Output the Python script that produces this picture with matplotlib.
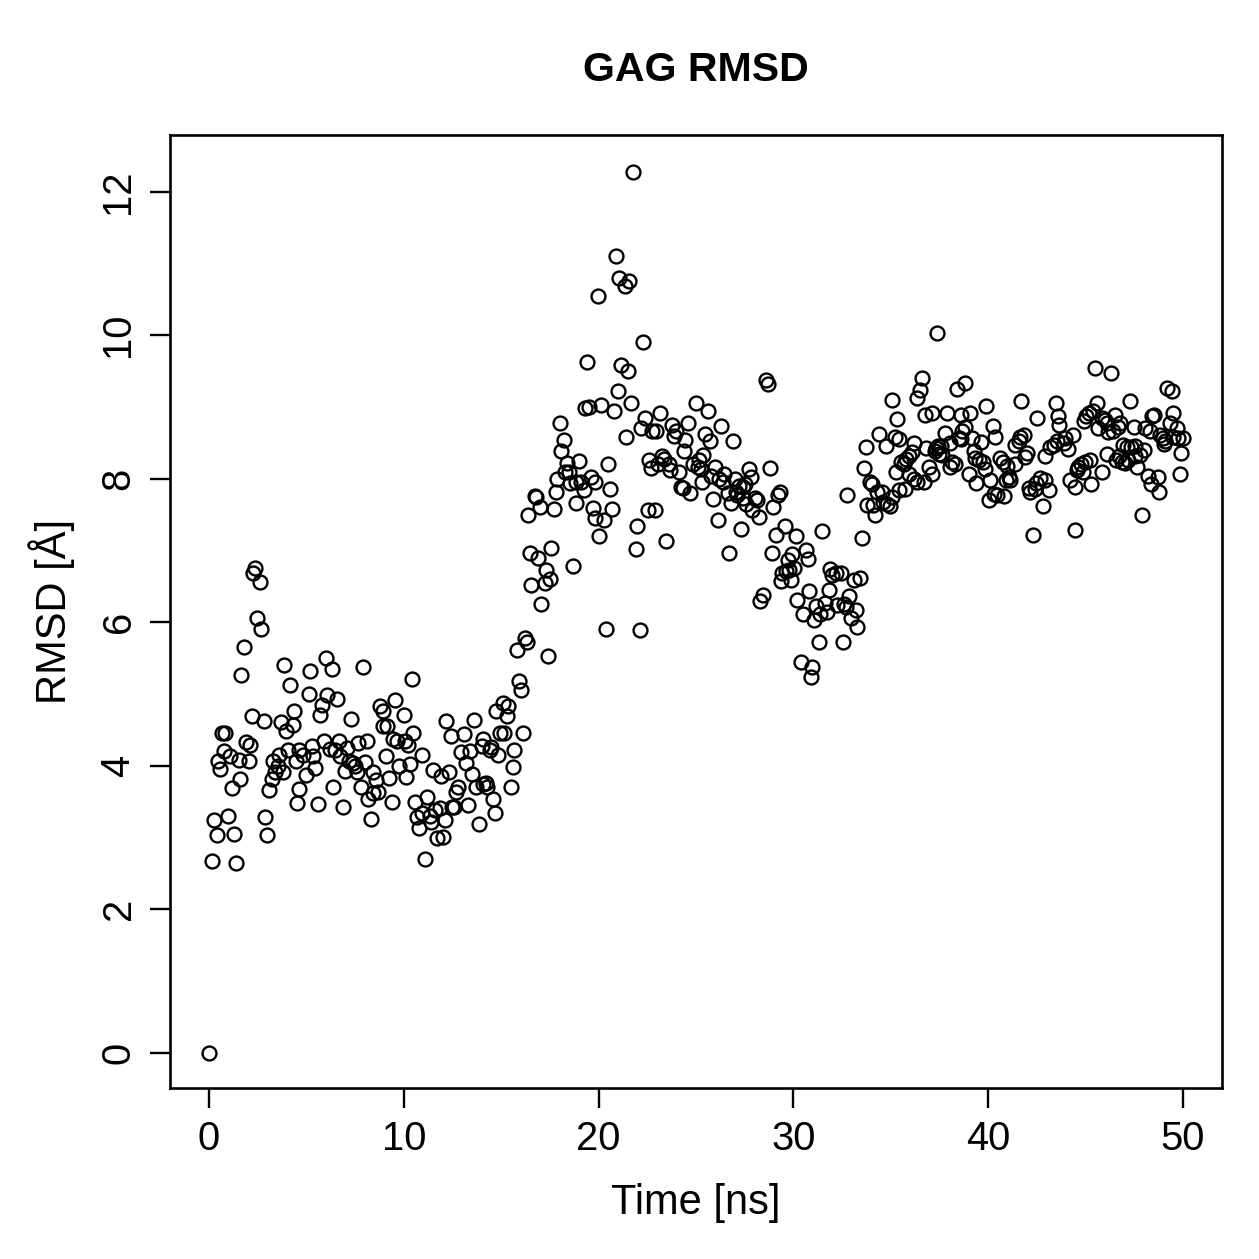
import matplotlib
matplotlib.use("Agg")
import matplotlib.pyplot as plt

plt.rcParams['font.family'] = ['Liberation Sans', 'DejaVu Sans']

# time [ns] and RMSD [A], in time order
time_ns = [
    0.00, 0.15, 0.24, 0.41, 0.45, 0.56, 0.67, 0.77, 0.82, 0.96,
    1.08, 1.18, 1.27, 1.40, 1.52, 1.59, 1.64, 1.78, 1.90, 2.03,
    2.10, 2.20, 2.25, 2.36, 2.46, 2.60, 2.66, 2.80, 2.87, 2.97,
    3.07, 3.23, 3.28, 3.38, 3.52, 3.57, 3.69, 3.79, 3.84, 3.94,
    4.08, 4.15, 4.29, 4.35, 4.46, 4.51, 4.60, 4.63, 4.85,
    4.98, 5.11, 5.19, 5.28, 5.36, 5.45, 5.62, 5.70, 5.79, 5.88,
    6.01, 6.08, 6.21, 6.30, 6.39, 6.47, 6.59, 6.70, 6.73, 6.90,
    6.98, 7.11, 7.21, 7.29, 7.41, 7.49, 7.62, 7.67, 7.79, 7.89,
    8.01, 8.09, 8.18, 8.30, 8.40, 8.44, 8.57, 8.69, 8.78, 8.91,
    8.95, 9.08, 9.15, 9.26, 9.38, 9.46, 9.54, 9.63, 9.75,
    10.01, 10.05, 10.11, 10.23, 10.31, 10.40, 10.49, 10.57, 10.69, 10.79,
    10.91, 10.96, 11.08, 11.20, 11.34, 11.42, 11.48, 11.59, 11.68, 11.85,
    11.89, 12.02, 12.11, 12.19, 12.33, 12.40, 12.45, 12.57, 12.67, 12.79,
    12.96, 13.08, 13.18, 13.30, 13.42, 13.52, 13.59, 13.73, 13.87, 13.99,
    14.05, 14.07, 14.21, 14.28, 14.41, 14.50, 14.58, 14.67, 14.75, 14.84,
    14.92,
    15.08, 15.16, 15.28, 15.33, 15.51, 15.59, 15.68, 15.81, 15.90, 16.01,
    16.10,
    16.20, 16.33, 16.38, 16.50, 16.55, 16.72, 16.80, 16.89, 16.97, 17.06,
    17.23, 17.28, 17.40, 17.49, 17.57, 17.69, 17.79, 17.86, 18.00, 18.08,
    18.20, 18.25, 18.38, 18.48, 18.55, 18.68, 18.82, 18.85, 18.99, 19.11,
    19.23, 19.28, 19.40, 19.50, 19.62, 19.71, 19.79, 19.84, 19.98, 20.04,
    20.13,
    20.30, 20.39, 20.48, 20.59, 20.70, 20.81, 20.87, 20.99, 21.07, 21.16,
    21.33, 21.41, 21.50, 21.58, 21.67, 21.79, 21.93, 21.96, 22.10, 22.18,
    22.27, 22.40, 22.52, 22.58, 22.69, 22.75, 22.92, 22.95, 23.04, 23.17,
    23.26, 23.37, 23.46, 23.60, 23.67, 23.77, 23.89, 23.98, 24.11, 24.23,
    24.32, 24.40, 24.45, 24.57, 24.69, 24.83, 24.98,
    25.08, 25.16, 25.26, 25.31, 25.36, 25.48, 25.60, 25.72, 25.77, 25.89,
    25.99, 26.11, 26.16, 26.28, 26.37, 26.45, 26.62, 26.71, 26.79, 26.88,
    27.01, 27.05, 27.13, 27.22, 27.31, 27.39, 27.41, 27.52, 27.56, 27.70,
    27.82, 27.87, 28.04, 28.11, 28.21, 28.28, 28.42, 28.59, 28.72, 28.79,
    28.89, 28.96, 29.10, 29.19, 29.30, 29.35, 29.44, 29.57, 29.60, 29.70,
    29.78, 29.87, 29.95, 30.05, 30.15,
    30.21, 30.38, 30.50, 30.64, 30.73, 30.80, 30.89, 30.98, 31.06, 31.15,
    31.29, 31.35, 31.49, 31.62, 31.70, 31.83, 31.86, 32.00, 32.17, 32.26,
    32.43, 32.52, 32.60, 32.68, 32.77, 32.85, 32.94, 33.11, 33.20, 33.28,
    33.40, 33.50, 33.62, 33.71, 33.80, 33.91, 34.02, 34.08, 34.19, 34.31,
    34.39, 34.53, 34.59, 34.77, 34.82, 34.94,
    35.04, 35.08, 35.21, 35.25, 35.33, 35.42, 35.42, 35.50, 35.67, 35.76,
    35.93, 36.07, 35.72, 35.93, 36.18, 36.36, 36.18, 36.36, 36.48, 36.58,
    36.70, 36.78, 36.82, 36.95, 37.09, 37.13, 37.26, 37.30, 37.38, 37.43,
    37.46, 37.60, 37.64, 37.77, 37.89, 38.06, 38.06, 38.15, 38.28, 38.41,
    38.49, 38.58, 38.58, 38.66, 38.80, 38.83, 39.00, 39.09, 39.18, 39.26,
    39.31, 39.38, 39.51, 39.65, 39.72, 39.82, 39.89, 40.03, 40.11, 40.23,
    40.28, 40.33, 40.46,
    40.63, 40.74, 40.79, 40.90, 40.97, 41.05, 41.14, 41.36, 41.39, 41.56,
    41.65, 41.70, 41.82, 41.91, 41.99, 42.07, 42.16, 42.28, 42.38, 42.45,
    42.50, 42.67, 42.79, 42.89, 42.93, 43.10, 43.19, 43.36, 43.48, 43.53,
    43.58, 43.65, 43.87, 43.95, 44.09, 44.21, 44.33, 44.43, 44.47, 44.55,
    44.61, 44.77, 44.84, 44.94, 44.98, 45.02, 45.15, 45.24, 45.29, 45.40,
    45.46, 45.58, 45.62,
    45.83, 45.83, 46.00, 46.09, 46.09, 46.17, 46.31, 46.43, 46.52, 46.55,
    46.65, 46.69, 46.77, 46.86, 46.94, 47.03, 47.12, 47.20, 47.28, 47.34,
    47.46, 47.51, 47.54, 47.63, 47.80, 47.88, 48.02, 48.05, 48.22, 48.31,
    48.35, 48.43, 48.53, 48.70, 48.78, 48.82, 48.99, 49.03, 49.08, 49.16,
    49.33, 49.42, 49.46, 49.50, 49.68, 49.73, 49.85, 49.90, 50.02,
]

rmsd_A = [
    0.00, 2.68, 3.25, 3.04, 4.06, 3.96, 4.46, 4.20, 4.46, 3.30,
    4.13, 3.69, 3.05, 2.65, 4.08, 3.82, 5.26, 5.66, 4.33, 4.06,
    4.29, 4.70, 6.68, 6.76, 6.06, 6.56, 5.90, 4.62, 3.29, 3.04,
    3.66, 3.82, 4.07, 3.92, 4.00, 4.15, 4.61, 3.91, 5.40, 4.49,
    4.22, 5.13, 4.57, 4.77, 4.06, 3.48, 4.22, 3.67, 4.15,
    3.87, 5.00, 5.32, 4.28, 4.13, 3.97, 3.47, 4.71, 4.85, 4.34,
    5.50, 4.99, 4.23, 5.35, 3.70, 4.22, 4.93, 4.34, 4.13, 3.42,
    3.93, 4.25, 4.06, 4.65, 4.04, 4.00, 3.91, 4.32, 3.70, 5.38,
    4.05, 4.34, 3.54, 3.26, 3.92, 3.62, 3.80, 3.63, 4.83, 4.77,
    4.56, 4.14, 4.55, 3.83, 3.49, 4.37, 4.91, 4.34, 4.00,
    4.71, 4.34, 3.85, 4.29, 4.03, 5.21, 4.46, 3.49, 3.29, 3.13,
    3.34, 4.15, 2.70, 3.56, 3.30, 3.21, 3.94, 3.38, 3.00, 3.41,
    3.86, 3.01, 3.25, 4.63, 3.91, 4.42, 3.42, 3.43, 3.63, 3.71,
    4.19, 4.44, 4.04, 3.46, 4.20, 3.89, 4.64, 3.71, 3.19, 4.27,
    3.74, 4.37, 3.76, 3.71, 4.22, 4.26, 3.54, 3.34, 4.76, 4.15,
    4.46,
    4.87, 4.45, 4.69, 4.84, 3.71, 3.98, 4.22, 5.61, 5.18, 5.05,
    4.46,
    5.78, 5.73, 7.50, 6.96, 6.52, 7.76, 7.75, 6.89, 7.61, 6.26,
    6.55, 6.73, 5.53, 6.60, 7.03, 7.58, 7.81, 7.99, 8.77, 8.38,
    8.54, 8.10, 8.22, 8.10, 7.94, 6.79, 7.66, 7.95, 8.25, 7.96,
    7.85, 8.99, 9.62, 9.00, 8.03, 7.59, 7.45, 7.96, 10.55, 7.20,
    9.03,
    7.43, 5.90, 8.20, 7.86, 7.58, 8.94, 11.11, 9.22, 10.80, 9.59,
    10.69, 8.58, 9.50, 10.76, 9.06, 12.28, 7.02, 7.34, 5.89, 8.71,
    9.91, 8.85, 7.56, 8.26, 8.15, 8.66, 7.56, 8.66, 8.20, 8.92,
    8.32, 8.27, 7.13, 8.20, 8.12, 8.75, 8.60, 8.66, 8.10, 7.89,
    7.87, 8.38, 8.54, 8.78, 7.80, 8.20, 9.06,
    8.16, 8.26, 8.13, 7.95, 8.33, 8.63, 8.95, 8.52, 8.04, 7.72,
    8.17, 7.43, 8.00, 8.74, 7.96, 8.06, 7.80, 6.97, 7.66, 8.52,
    7.99, 7.82, 7.78, 7.90, 7.30, 7.88, 7.73, 7.93, 7.65, 8.14,
    8.03, 7.56, 7.73, 7.70, 7.47, 6.29, 6.38, 9.38, 9.32, 8.15,
    6.96, 7.61, 7.22, 7.78, 7.81, 6.57, 6.69, 7.34, 6.71, 6.87,
    6.73, 6.59, 6.95, 6.76, 7.20,
    6.31, 5.44, 6.12, 7.01, 6.88, 6.43, 5.24, 5.38, 6.03, 6.23,
    5.72, 6.12, 7.27, 6.27, 6.15, 6.45, 6.74, 6.66, 6.69, 6.24,
    6.69, 5.72, 6.26, 6.21, 7.78, 6.36, 6.06, 6.59, 6.17, 5.94,
    6.62, 7.17, 8.15, 8.44, 7.64, 7.96, 7.93, 7.64, 7.50, 7.81,
    8.63, 7.81, 7.67, 8.46, 7.65, 7.62,
    7.75, 9.10, 8.58, 8.10, 8.83, 8.55, 7.85, 8.23, 8.20, 8.27,
    8.32, 8.37, 7.86, 8.06, 8.00, 7.96, 8.50, 9.12, 9.24, 9.40,
    7.95, 8.89, 8.43, 8.17, 8.92, 8.07, 8.38, 8.43, 10.03, 8.46,
    8.35, 8.45, 8.33, 8.64, 8.92, 8.50, 8.16, 8.24, 8.20, 9.25,
    8.57, 8.89, 8.55, 8.66, 9.34, 8.72, 8.07, 8.92, 8.57, 8.38,
    8.29, 7.94, 8.26, 8.51, 8.24, 8.13, 9.02, 7.71, 7.98, 8.73,
    7.79, 8.58, 7.78,
    8.29, 8.23, 7.76, 7.98, 8.18, 8.02, 7.98, 8.20, 8.47, 8.53,
    8.58, 9.08, 8.61, 8.30, 8.36, 7.87, 7.82, 7.22, 7.86, 7.94,
    8.85, 8.01, 7.62, 8.31, 7.98, 7.85, 8.44, 8.47, 9.05, 8.52,
    8.87, 8.75, 8.50, 8.57, 8.41, 7.98, 8.61, 7.89, 7.28, 8.12,
    8.16, 8.20, 8.09, 8.80, 8.24, 8.87, 8.92, 8.26, 7.92, 8.94,
    9.54, 9.05, 8.71,
    8.85, 8.09, 8.82, 8.78, 8.35, 8.65, 9.48, 8.67, 8.89, 8.26,
    8.72, 8.32, 8.77, 8.23, 8.47, 8.22, 8.44, 8.26, 9.08, 8.44,
    8.72, 8.45, 8.31, 8.17, 8.33, 7.50, 8.40, 8.71, 8.04, 8.66,
    7.93, 8.87, 8.89, 8.03, 7.82, 8.61, 8.57, 8.49, 8.52, 9.26,
    8.78, 9.22, 8.58, 8.92, 8.71, 8.57, 8.07, 8.36, 8.57,
]

W = 1259.0
fig = plt.figure(figsize=(W / 200, W / 200), dpi=200)
ax = fig.add_axes([170 / W, 1 - 1088 / W, (1222 - 170) / W, (1088 - 135) / W])

ax.plot(time_ns, rmsd_A, 'o', ms=5.0, mfc='none', mec='black', mew=0.85)

ax.set_xlim(-2.0, 52.0)
ax.set_ylim(-0.49, 12.79)
ax.set_xticks([0, 10, 20, 30, 40, 50])
ax.set_yticks([0, 2, 4, 6, 8, 10, 12])
ax.tick_params(direction='out', length=7.2, width=0.85, labelsize=14.4, pad=4.5)
for lab in ax.get_yticklabels():
    lab.set_rotation(90)
    lab.set_va('center')
for s in ax.spines.values():
    s.set_linewidth(0.95)

fig.text(696 / W, 1 - 70 / W, 'GAG RMSD', ha='center', va='center',
         fontsize=14.8, fontweight='bold')
fig.text(696 / W, 1 - 1203 / W, 'Time [ns]', ha='center', va='center', fontsize=15)
fig.text(52 / W, 1 - 611 / W, 'RMSD [Å]', ha='center', va='center',
         rotation=90, fontsize=15)

fig.savefig('out.png', dpi=200)
